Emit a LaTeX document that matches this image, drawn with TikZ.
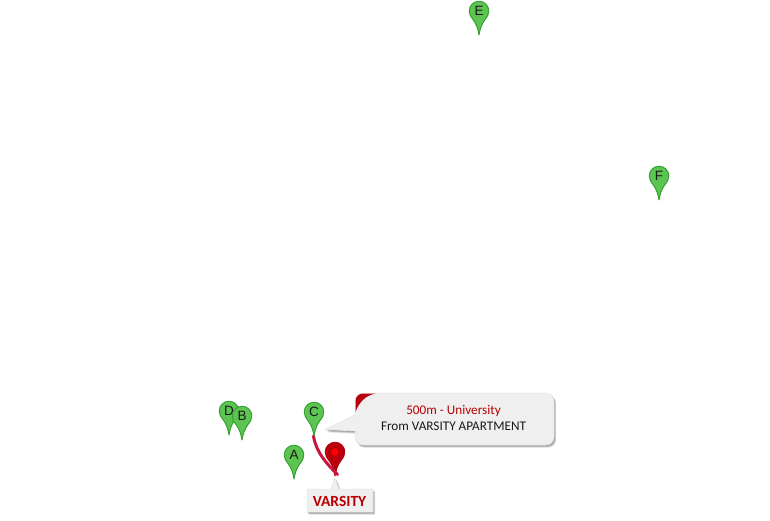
\documentclass[tikz,border=0pt]{standalone}
\usepackage{fontspec}
\setmainfont{Liberation Sans}
\newfontfamily\callfont{Carlito}
\definecolor{pingreen}{HTML}{5DC351}
\definecolor{pinedge}{HTML}{2E9E2E}
\definecolor{pinred}{HTML}{B8000C}
\definecolor{dotred}{HTML}{FF0000}
\definecolor{routered}{HTML}{C8153F}
\definecolor{boxgray}{HTML}{EFEFEF}
\definecolor{textred}{HTML}{B80000}
\newcommand\calloutshape{(355,401) arc[start angle=180,end angle=270,radius=8] -- (546,393) arc[start angle=270,end angle=360,radius=8] -- (554,437) arc[start angle=0,end angle=90,radius=8] -- (363,445) arc[start angle=90,end angle=180,radius=8] -- (355,431) -- (325,429.5) -- (355,415) -- cycle}
\newcommand\labelshape{(307,489) -- (331,489) -- (335,478) -- (339,489) -- (373,489) -- (373,512) -- (307,512) -- cycle}
\tikzset{
  x=1pt,y=-1pt,
  pin/.pic={
    \draw[pic actions,line width=.9pt,line join=round]
      (0,24) .. controls (-1.2,17.5) and (-2.4,13.5) .. (-6,8.5)
      .. controls (-8.5,5.5) and (-9.8,3) .. (-9.8,0)
      .. controls (-9.8,-5.4) and (-5.4,-9.8) .. (0,-9.8)
      .. controls (5.4,-9.8) and (9.8,-5.4) .. (9.8,0)
      .. controls (9.8,3) and (8.5,5.5) .. (6,8.5)
      .. controls (2.4,13.5) and (1.2,17.5) .. (0,24) -- cycle;
  },
  greenpin/.style={fill=pingreen,draw=pinedge},
  redpin/.style={fill=pinred,draw=pinred},
  pinlabel/.style={font=\fontsize{13.5}{13.5}\selectfont,inner sep=0pt,text=black!90},
  shadowlayer/.style={fill=black,opacity=.15},
  boxface/.style={fill=boxgray,draw=black!10,line width=.5pt},
}
\begin{document}
\begin{tikzpicture}
\useasboundingbox (0,0) rectangle (770,520);
\fill[white] (0,0) rectangle (770,520);
% red pin
\pic[redpin] at (335,452) {pin};
\fill[dotred] (335,452) circle[radius=3.8];
\node[coordinate] (routeA) at (313.5,436) {};
\node[coordinate] (routeB) at (337.5,474.5) {};
\draw[routered,line width=3pt,line cap=round] (routeA) .. controls (316,452) and (326,463) .. (routeB);
% green pins
\pic[greenpin] at (229,411) {pin};
\node[pinlabel] (D) at (229,411) {D};
\pic[greenpin] at (242,416) {pin};
\node[pinlabel] (B) at (242,416) {B};
\pic[greenpin] at (294,455) {pin};
\node[pinlabel] (A) at (294,455) {A};
\pic[greenpin] at (314,412) {pin};
\node[pinlabel] (C) at (314,412) {C};
\pic[greenpin] at (479,11) {pin};
\node[pinlabel] (E) at (479,11) {E};
\pic[greenpin] at (659,176) {pin};
\node[pinlabel] (F) at (659,176) {F};
% callout
\foreach \d in {1,2,3}{\fill[shadowlayer,shift={(\d*.7,\d*.9)}] \calloutshape;}
\path[boxface] \calloutshape;
\fill[pinred] (355.5,412) -- (355.5,401) arc[start angle=180,end angle=270,radius=7.5] -- (376,393.5) .. controls (366,395) and (359,402) .. (355.5,412) -- cycle;
\node[font=\callfont\fontsize{13.2}{13.2}\selectfont,text=textred,inner sep=0pt] (dist) at (453.5,411) {500m - University};
\node[font=\callfont\fontsize{13.2}{13.2}\selectfont,text=black!90,inner sep=0pt] (from) at (453.5,426.5) {From VARSITY APARTMENT};
% label
\foreach \d in {1,2,3}{\fill[shadowlayer,shift={(\d*.7,\d*.9)}] \labelshape;}
\path[boxface] \labelshape;
\node[font=\callfont\bfseries\fontsize{15.5}{15.5}\selectfont,text=textred,inner sep=0pt] (varsity) at (339.5,501.5) {VARSITY};
\end{tikzpicture}
\end{document}
